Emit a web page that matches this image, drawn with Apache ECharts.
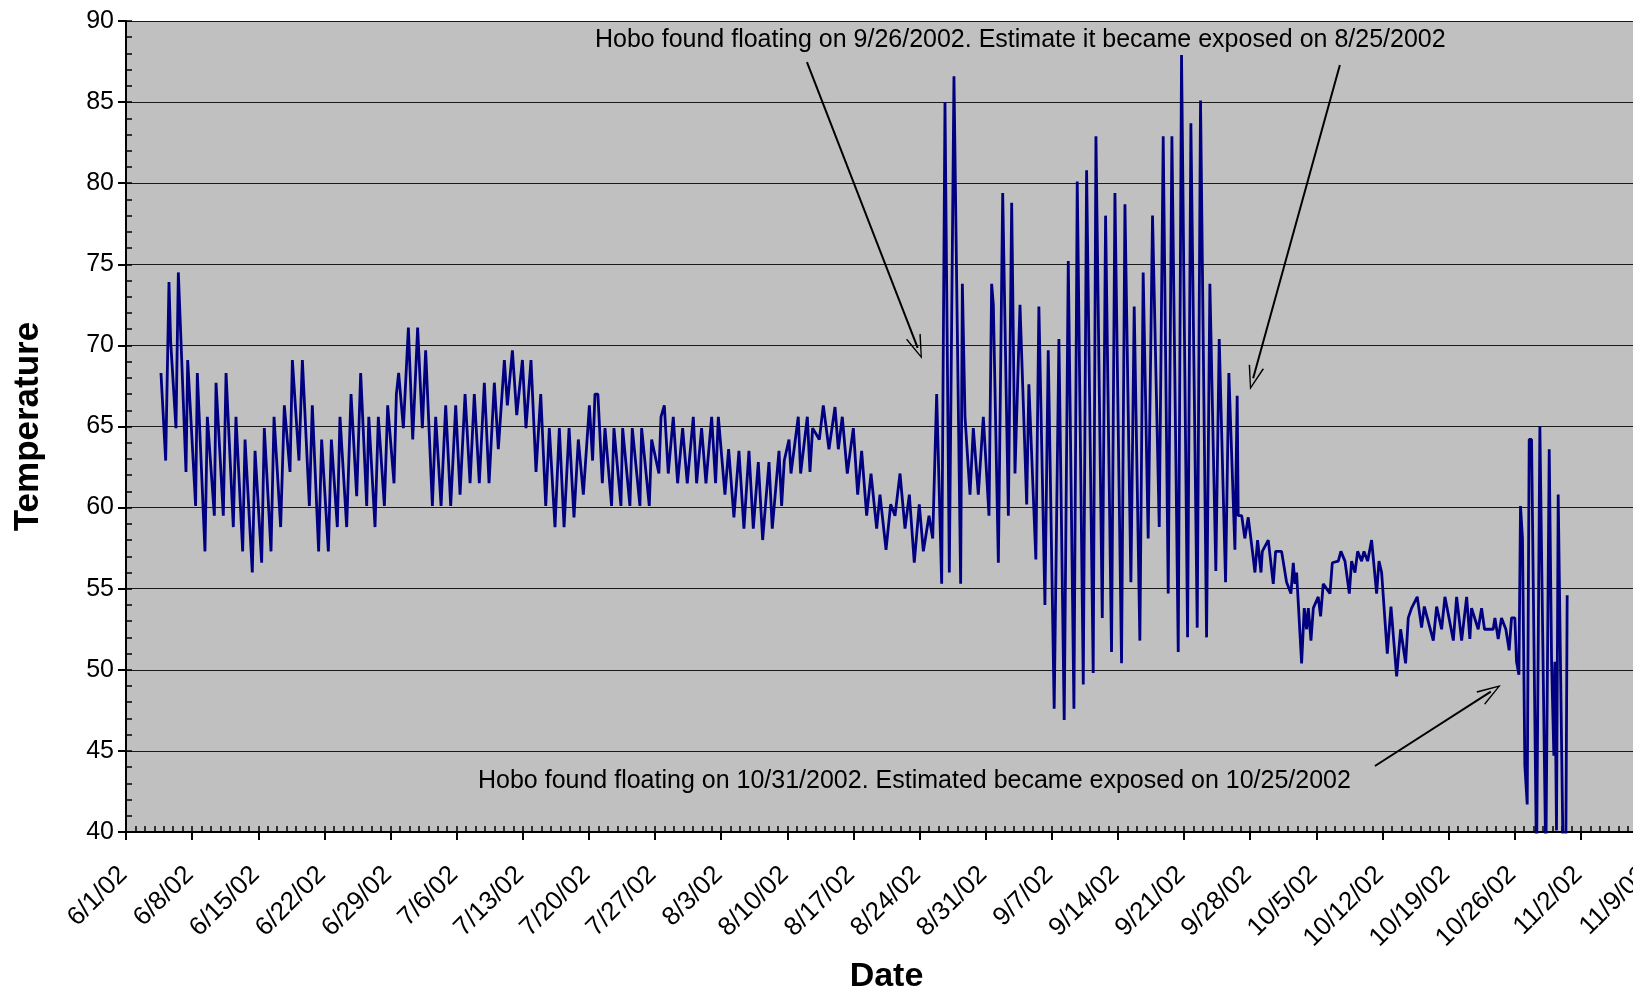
<!DOCTYPE html>
<html>
<head>
<meta charset="utf-8">
<script src="https://cdn.jsdelivr.net/npm/echarts@6/dist/echarts.min.js"></script>
<style>
  html, body { margin: 0; padding: 0; background: #fff; }
  #chart { width: 1633px; height: 995px; }
</style>
</head>
<body>
<div id="chart"></div>
<script>
// Time in days since 6/1/2002 00:00, temperature values
const juneDays = [3.70,4.20,4.55,4.73,5.29,5.54,5.72,6.35,6.53,7.37,7.55,8.36,8.61,9.35,9.53,10.30,10.59,11.36,11.64,12.35,12.60,13.37,13.66,14.36,14.64,15.35,15.67,16.37,16.76,17.36,17.61,18.31,18.67,19.41,19.72,20.39,20.71,21.42,21.74,22.37,22.65,23.36,23.82,24.42,24.84,25.48,25.70,26.36,26.71,27.35,27.70,28.37,28.62,28.86,29.36,29.89];
const juneTemps = [68.3,62.9,73.9,70.2,64.9,74.5,71.8,62.2,69.1,60.1,68.3,57.3,65.6,59.5,67.7,59.5,68.3,58.8,65.6,57.3,64.2,56.0,63.5,56.6,64.9,57.3,65.6,58.8,66.3,62.2,69.1,62.9,69.1,60.1,66.3,57.3,64.2,57.3,64.2,58.8,65.6,58.8,67.0,60.7,68.3,60.1,65.6,58.8,65.6,60.1,66.3,61.5,67.0,68.3,64.9,71.1];

const julyDays = [30.35,30.87,31.37,31.72,32.43,32.78,33.35,33.84,34.37,34.90,35.36,35.89,36.42,36.87,37.40,37.93,38.43,38.99,39.41,40.05,40.37,40.90,41.36,41.96,42.34,42.87,43.40,43.90,44.43,44.81,45.41,45.87,46.37,46.90,47.42,47.88,48.41,49.05,49.39,49.64,49.95,50.42,50.70,51.40,51.65,52.39,52.57,53.34,53.59,54.40,54.58,55.39,55.64,56.41,56.63,56.98,57.40,57.93,58.39,58.92,59.41,60.05,60.40,60.93];
const julyTemps = [64.2,71.1,64.9,69.7,60.1,65.6,60.1,66.3,60.1,66.3,60.8,67.0,61.5,67.0,61.5,67.7,61.5,67.7,63.6,69.1,66.3,69.7,65.7,69.1,64.9,69.1,62.2,67.0,60.1,64.9,58.8,64.9,58.8,64.9,59.4,64.2,60.8,66.3,62.9,67.0,67.0,61.5,64.9,60.1,64.9,60.1,64.9,60.1,64.9,60.1,64.9,60.1,64.2,62.1,65.6,66.3,62.1,65.6,61.5,64.9,61.5,65.6,61.5,64.9];

const augDays = [61.39,61.99,62.41,62.70,63.40,63.79,64.35,64.88,65.41,65.94,66.40,66.93,67.39,68.06,68.41,69.12,69.40,69.68,70.18,70.39,71.16,71.41,72.12,72.40,72.68,73.39,73.81,74.41,75.05,75.40,75.82,76.35,76.99,77.45,77.87,78.40,78.86,79.46,79.81,80.45,80.94,81.40,81.93,82.46,82.92,83.44,83.97,84.40,85.00,85.39,85.81,86.34,86.69,87.15,87.64,88.35,88.53,88.81,89.34,89.69,90.22,90.75,91.35,91.63,91.81];
const augTemps = [61.5,65.6,61.5,65.6,60.8,63.6,59.4,63.5,58.7,63.5,58.7,62.8,58.0,62.8,58.7,63.5,60.1,62.9,64.2,62.1,65.6,62.1,65.6,62.2,64.9,64.2,66.3,63.6,66.2,63.6,65.6,62.1,64.9,60.8,63.5,59.5,62.1,58.7,60.8,57.4,60.2,59.5,62.1,58.7,60.8,56.6,60.2,57.3,59.5,58.1,67.0,55.3,85.0,56.0,86.6,55.3,73.8,65.6,60.8,64.9,60.8,65.6,59.5,73.8,72.5];

const sepDays = [92.34,92.80,93.40,93.75,94.10,94.63,95.34,95.57,96.31,96.63,97.27,97.62,98.25,98.75,99.31,99.74,100.34,100.69,101.33,101.68,102.38,102.67,103.34,103.69,104.32,104.68,105.38,105.74,106.37,106.72,107.32,107.67,108.20,108.66,109.37,109.79,110.32,110.71,111.38,111.73,112.37,112.72,113.39,113.74,114.38,114.73,115.36,115.72,116.39,116.74,117.38,117.62,117.73,118.10,118.43,118.79,119.32,119.50,119.78,120.14,120.28,120.91,121.44,121.69];
const sepTemps = [56.6,79.4,59.5,78.8,62.1,72.5,60.2,67.6,56.8,72.4,54.0,69.7,47.6,70.4,46.9,75.2,47.6,80.1,49.1,80.8,49.8,82.9,53.2,78.0,51.1,79.4,50.4,78.7,55.4,72.4,51.8,74.5,58.1,78.0,58.8,82.9,54.7,82.9,51.1,87.9,52.0,83.7,52.6,85.1,52.0,73.8,56.1,70.4,55.4,68.3,57.4,66.9,59.5,59.5,58.1,59.4,56.9,56.0,58.0,56.0,57.3,58.0,55.3,57.3];

const octDays = [122.32,122.85,123.31,123.56,123.73,123.91,124.44,124.72,124.97,125.15,125.43,125.68,126.20,126.45,126.73,127.44,127.69,128.32,128.60,129.03,129.49,129.73,130.09,130.37,130.79,131.04,131.43,131.85,132.38,132.63,132.91,133.51,133.90,134.50,134.92,135.45,135.73,136.08,136.68,137.14,137.43,138.38,138.73,139.26,139.61,140.50,140.85,141.38,141.91,142.25,142.43,143.13,143.49,143.80,144.72,144.90,145.25,145.60,146.06,146.41,146.66,147.01,147.19,147.44,147.61,147.82,148.07,148.32,148.53,148.78,149.31,149.66,150.29,150.65,150.90,151.14,151.25,151.42,151.60,152.13,152.40,152.55];
const octTemps = [57.3,55.4,54.7,56.6,55.3,56.0,50.4,53.8,52.5,53.8,51.8,53.8,54.5,53.3,55.3,54.7,56.6,56.7,57.3,56.7,54.7,56.7,56.0,57.3,56.7,57.3,56.7,58.0,54.7,56.7,56.0,51.0,53.9,49.6,52.5,50.4,53.2,53.8,54.5,52.6,53.9,51.8,53.9,52.5,54.5,51.8,54.5,51.8,54.5,51.9,53.8,52.5,53.8,52.5,52.5,53.2,51.9,53.2,52.5,51.2,53.2,53.2,50.5,49.7,60.1,58.1,44.1,41.7,64.2,64.2,38.0,65.0,38.0,63.6,50.5,44.7,50.5,40.1,60.8,38.0,38.0,54.6];

// axis ticks
const xTickStep = 7;     // days between labelled ticks
const xMaxDay = 161;     // 11/9/02
const yTicks = [40, 45, 50, 55, 60, 65, 70, 75, 80, 85, 90];

// annotation arrows in data coordinates [day, temperature] (end = centre of arrow head)
const arrowFrom = [[72.08, 87.47], [128.49, 87.29], [132.2, 44.07]];
const arrowTo   = [[83.80, 69.85], [119.31, 67.97], [144.47, 48.66]];
const noteTop = 'Hobo found floating on 9/26/2002. Estimate it became exposed on 8/25/2002';
const noteBottom = 'Hobo found floating on 10/31/2002. Estimated became exposed on 10/25/2002';

const allDays = [].concat(juneDays, julyDays, augDays, sepDays, octDays);
const allTemps = [].concat(juneTemps, julyTemps, augTemps, sepTemps, octTemps);
const seriesData = allDays.map((d, i) => [d, allTemps[i]]);

const FONT = "'Liberation Sans', Arial, sans-serif";
function dayLabel(v) {
  const d = new Date(2002, 5, 1 + Math.round(v));
  return (d.getMonth() + 1) + '/' + d.getDate() + '/02';
}
const chevron = 'path://M5,0L10,13L9,13L5,2.2L1,13L0,13Z';

const chart = echarts.init(document.getElementById('chart'), null, { renderer: 'canvas' });
chart.setOption({
  animation: false,
  backgroundColor: '#ffffff',
  grid: {
    left: 126, top: 21, right: -14, bottom: 163,
    outerBoundsMode: 'none', containLabel: false,
    show: true, backgroundColor: '#c0c0c0', borderWidth: 0
  },
  xAxis: [{
    type: 'value', min: 0, max: xMaxDay, interval: xTickStep,
    name: 'Date', nameLocation: 'middle', nameGap: 128, nameMoveOverlap: false,
    nameTextStyle: { fontFamily: FONT, fontSize: 34, fontWeight: 'bold', color: '#000' },
    axisLine: { show: true, onZero: false, lineStyle: { color: '#000', width: 2 } },
    axisTick: { show: true, inside: false, length: 8, lineStyle: { color: '#000', width: 2 } },
    axisLabel: { rotate: 45, margin: 36, fontFamily: FONT, fontSize: 26, color: '#000',
      padding: [0, 4, 0, 0],
      formatter: dayLabel, showMaxLabel: true, showMinLabel: true, hideOverlap: false },
    splitLine: { show: false }
  }, {
    type: 'value', min: 0, max: xMaxDay, interval: 1, position: 'bottom',
    axisLine: { show: false, onZero: false },
    axisTick: { show: true, inside: true, length: 6, lineStyle: { color: '#000', width: 1.5 } },
    axisLabel: { show: false }, splitLine: { show: false }
  }],
  yAxis: [{
    type: 'value', min: yTicks[0], max: yTicks[yTicks.length - 1], interval: yTicks[1] - yTicks[0],
    name: 'Temperature', nameLocation: 'middle', nameGap: 80, nameRotate: 90, nameMoveOverlap: false,
    nameTextStyle: { fontFamily: FONT, fontSize: 35, fontWeight: 'bold', color: '#000' },
    axisLine: { show: true, onZero: false, lineStyle: { color: '#000', width: 2 } },
    axisTick: { show: true, inside: false, length: 8, lineStyle: { color: '#000', width: 2 } },
    axisLabel: { margin: 12, fontFamily: FONT, fontSize: 25, color: '#000' },
    splitLine: { show: true, lineStyle: { color: '#1a1a1a', width: 1 } }
  }, {
    type: 'value', min: yTicks[0], max: yTicks[yTicks.length - 1], interval: 1, position: 'left',
    axisLine: { show: false, onZero: false },
    axisTick: { show: true, inside: true, length: 6, lineStyle: { color: '#000', width: 1.5 } },
    axisLabel: { show: false }, splitLine: { show: false }
  }],
  series: [{
    type: 'line',
    xAxisIndex: 0, yAxisIndex: 0,
    data: seriesData,
    showSymbol: false,
    clip: true,
    lineStyle: { color: '#000080', width: 2.8 },
    markLine: {
      silent: true,
      symbol: ['none', chevron],
      symbolSize: [16, 24],
      label: { show: false },
      lineStyle: { color: '#000', width: 2, type: 'solid' },
      data: arrowFrom.map((f, i) => [{ coord: f }, { coord: arrowTo[i] }])
    }
  }],
  graphic: [{
    type: 'text', left: 595, top: 28,
    style: { text: noteTop, font: '25px ' + FONT, fill: '#000' }
  }, {
    type: 'text', left: 478, top: 769,
    style: { text: noteBottom, font: '25px ' + FONT, fill: '#000' }
  }]
});
</script>
</body>
</html>
